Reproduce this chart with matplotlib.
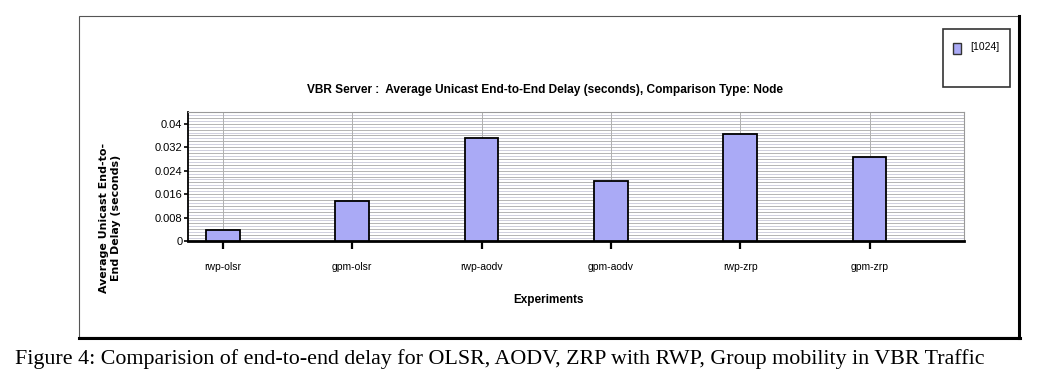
import matplotlib.pyplot as plt
import numpy as np
from matplotlib.patches import Rectangle

# Данные
experiments = ['rwp-olsr', 'gpm-olsr', 'rwp-aodv', 'gpm-aodv', 'rwp-zrp', 'gpm-zrp']
delay = [0.0037, 0.0138, 0.0353, 0.0206, 0.0365, 0.0287]
y_ticks = [0, 0.008, 0.016, 0.024, 0.032, 0.04]
y_tick_labels = ['0', '0.008', '0.016', '0.024', '0.032', '0.04']
series_name = '[1024]'

W, H = 1062, 392
fig = plt.figure(figsize=(W / 100, H / 100), dpi=100)
fig.patch.set_facecolor('white')

# Рамка вокруг графика (тень справа/снизу)
fig.patches.append(Rectangle((79 / W, 1 - 337 / H), 940 / W, 321 / H,
                             transform=fig.transFigure, fill=False,
                             edgecolor='#555555', linewidth=0.8, zorder=0))
fig.add_artist(plt.Line2D([1019 / W, 1019 / W], [1 - 338 / H, 1 - 16 / H],
                          transform=fig.transFigure, color='black', linewidth=2.2))
fig.add_artist(plt.Line2D([79 / W, 1020 / W], [1 - 337.5 / H, 1 - 337.5 / H],
                          transform=fig.transFigure, color='black', linewidth=2.2))

ax = fig.add_axes([188 / W, 1 - 241 / H, (964 - 188) / W, (241 - 112) / H])
x = np.arange(len(experiments))
ax.bar(x, delay, width=0.26, color='#aaaaf6', edgecolor='black', linewidth=1.3, zorder=3)

ax.set_xlim(-0.27, 5.73)
ax.set_ylim(0, 0.044)
ax.set_xticks(x)
ax.set_xticklabels(experiments, fontsize=7.5, family='Liberation Sans')
ax.set_yticks(y_ticks)
ax.set_yticklabels(y_tick_labels, fontsize=8, family='Liberation Sans')
ax.tick_params(axis='x', length=6, width=1.6, pad=9, color='black')
ax.tick_params(axis='y', length=3, width=1.2, pad=1)

# Частая горизонтальная сетка
for v in np.arange(0.001, 0.044, 0.001):
    ax.axhline(v, color='#c8c8d8' if round(v * 1000) % 2 else '#a8a8a8',
               linewidth=0.6, zorder=1)
for xi in x:
    ax.axvline(xi, color='#b0b0b0', linewidth=0.7, zorder=1)

for side in ['top', 'right']:
    ax.spines[side].set_color('#999999')
    ax.spines[side].set_linewidth(0.8)
ax.spines['left'].set_linewidth(1.3)
ax.spines['bottom'].set_linewidth(2.0)

fig.text(549 / W, 1 - 300 / H, 'Experiments', ha='center', va='center',
         fontsize=8.5, fontweight='bold', family='Liberation Sans')
fig.text(110 / W, 1 - 218 / H, 'Average Unicast End-to-\nEnd Delay (seconds)',
         rotation=90, ha='center', va='center', fontsize=7.9, fontweight='bold',
         linespacing=1.15)

fig.text(545 / W, 1 - 90 / H,
         'VBR Server :  Average Unicast End-to-End Delay (seconds), Comparison Type: Node',
         ha='center', va='center', fontsize=8.6, fontweight='bold', family='Liberation Sans')

# Легенда
fig.patches.append(Rectangle((943 / W, 1 - 87 / H), 67 / W, 58 / H,
                             transform=fig.transFigure, fill=False,
                             edgecolor='#333333', linewidth=1.2))
fig.patches.append(Rectangle((953 / W, 1 - 54 / H), 8 / W, 11 / H,
                             transform=fig.transFigure, facecolor='#aaaaf6',
                             edgecolor='#333333', linewidth=1.0))
fig.text(970 / W, 1 - 47 / H, series_name, ha='left', va='center',
         fontsize=7.5, family='Liberation Sans')

# Подпись рисунка
fig.text(15 / W, 1 - 359 / H,
         'Figure 4: Comparision of end-to-end delay for OLSR, AODV, ZRP with RWP, Group mobility in VBR Traffic',
         ha='left', va='center', fontsize=15.8, family='Liberation Serif')

fig.savefig('out.png', dpi=100)
